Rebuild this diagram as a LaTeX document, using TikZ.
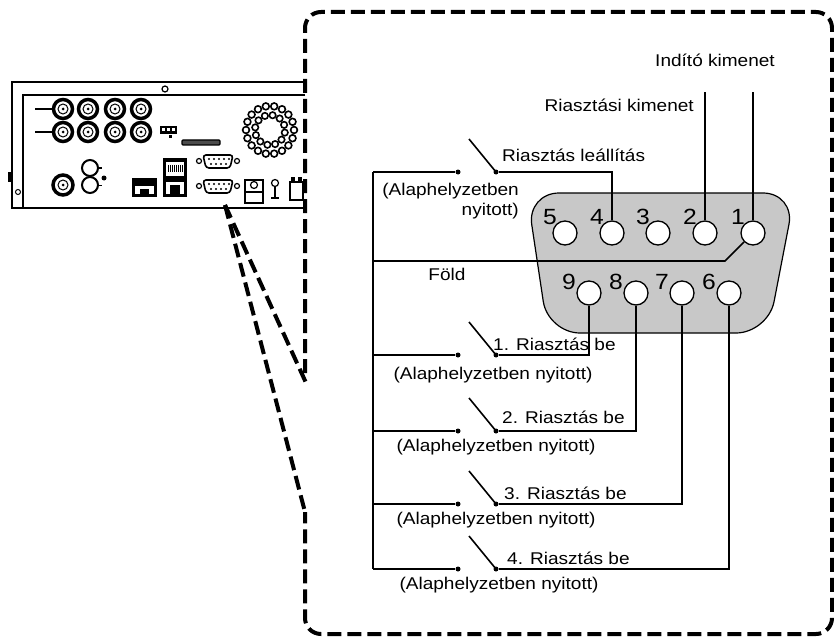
\documentclass[tikz,border=0pt]{standalone}
\usepackage{fontspec}
\setmainfont{Liberation Sans}[FakeStretch=1.12]
\usetikzlibrary{calc}
\definecolor{shellgray}{RGB}{200,200,200}
\newcommand{\labfont}{\fontsize{17}{19.5}\selectfont}
\newcommand{\pinfont}{\fontsize{22}{24}\selectfont}

\begin{document}
\begin{tikzpicture}[x=1pt,y=-1pt,
        pin/.style={circle,draw,fill=white,line width=1.3pt,minimum size=24pt,inner sep=0pt},
        contact/.style={circle,fill,inner sep=0pt,minimum size=5pt},
        lbl/.style={font=\labfont,inner sep=0pt},
        pinno/.style={font=\pinfont,inner sep=0pt},
        wire/.style={line width=1.6pt},
        zoomframe/.style={line width=4pt,dash pattern=on 14pt off 6pt}]
        \useasboundingbox (0,0) rectangle (834,639);

        % rear panel of the recorder
        \draw[line width=1.6pt] (305,82) -- (12,82) -- (12,208) -- (305,208);
        \draw[line width=1.3pt] (305,95) -- (23,95) -- (23,208);
        \fill (8,172) rectangle (12,182);
        \draw[line width=1pt] (18,192) circle (2.5);
        \draw[line width=1.2pt] (165,89) circle (3);
        % video in / out
        \foreach \y in {109,132} {
            \draw[line width=2pt] (35,\y) -- (53,\y);
            \foreach \x in {63,88,115,141} {
                \draw[line width=3.5pt] (\x,\y) circle (9.5);
                \draw[line width=1pt] (\x,\y) circle (5);
                \fill (\x,\y) circle (1.5);
            }
        }
        % dip switch and slot
        \fill (160,126) rectangle (177,134);
        \foreach \x in {162,167,172} \fill[white] (\x,128) rectangle (\x+3,131);
        \fill (169,135) rectangle (172,138);
        \draw[line width=1.3pt,fill=black!70,rounded corners=1pt] (182,140) rectangle (220,145);
        % fan
        \foreach \a in {0,20,...,340} \draw[line width=1.6pt] (270,130) ++(\a:24) circle (3.4);
        \foreach \a in {10,40,...,340} \draw[line width=1.6pt] (270,130) ++(\a:15) circle (3.2);
        % audio and monitor
        \draw[line width=3.5pt] (63,185) circle (10);
        \draw[line width=1pt] (63,185) circle (5);
        \fill (63,185) circle (1.5);
        \foreach \y in {168,185} {
            \draw[line width=2pt] (90,\y) circle (8);
            \draw[line width=1pt] (98,\y) -- (102,\y);
        }
        \fill (104,178) circle (2.5);
        % network and usb
        \fill (132,178) rectangle (157,197);
        \fill[white] (135,186) rectangle (154,194);
        \fill (140,189) rectangle (149,194);
        \fill (163,158) rectangle (187,197);
        \fill[white] (166,162) rectangle (184,176);
        \foreach \x in {168,170,...,182} \draw[line width=0.5pt] (\x,165) -- (\x,172);
        \fill[white] (166,182) rectangle (184,194);
        \fill (170,185) rectangle (180,194);
        % serial ports
        \foreach \y in {155,180} {
            \draw[line width=1.6pt,rounded corners=3pt] (203,\y) -- (233,\y) -- (230,\y+13) -- (206,\y+13) -- cycle;
            \draw[line width=1.2pt] (199,\y+6) circle (2.5);
            \draw[line width=1.2pt] (237,\y+6) circle (2.5);
            \foreach \x in {209,214,...,229} \fill (\x,\y+4) circle (1.2);
            \foreach \x in {211,216,...,226} \fill (\x,\y+9) circle (1.2);
        }
        % small items on the right
        \draw[line width=1.3pt] (245,180) rectangle (263,203);
        \draw[line width=1.3pt] (245,192) -- (263,192);
        \draw[line width=1.2pt] (254,185) circle (3.5);
        \draw[line width=1.2pt] (275,183) circle (3.5);
        \draw[line width=1.4pt] (275,187) -- (275,198);
        \draw[line width=2pt] (271,198) -- (279,198);
        \draw[line width=1.3pt] (290,182) rectangle (303,200);
        \fill (291,177) rectangle (295,182);
        \fill (298,177) rectangle (302,182);

        % zoomed frame
        \coordinate (port) at (225,205);
        \coordinate (fa) at (307,385);
        \coordinate (fb) at (305,512);
        \draw[zoomframe,rounded corners=16pt] (305,373) -- (305,12) -- (832,12) -- (832,634) -- (305,634) -- (fb);
        \draw[zoomframe] (port) -- (fa);
        \draw[zoomframe] (port) -- (fb);

        % DB9 shell
        \draw[rounded corners=32pt,fill=shellgray,line width=1.2pt]
            (660,193) -- (795,193) -- (768,333) -- (548,333) -- (527,193) -- cycle;

        % pins
        \foreach \n/\x in {5/565,4/612,3/658,2/705,1/753} {
            \node[pin] (p\n) at (\x,233) {};
            \node[pinno] (n\n) at ($(p\n)+(-15,-16)$) {\n};
        }
        \foreach \n/\x in {9/589,8/636,7/682,6/729} {
            \node[pin] (p\n) at (\x,293) {};
            \node[pinno] (n\n) at ($(p\n)+(-20,-11)$) {\n};
        }

        % outputs
        \coordinate (t1) at (753,92);
        \coordinate (t2) at (705,92);
        \draw[wire] (p1) -- (t1);
        \draw[wire] (p2) -- (t2);
        \node[lbl] (indito) at (715,60) {Indító kimenet};
        \node[lbl,anchor=east] (riaszt) at (694,105) {Riasztási kimenet};

        % switches
        \foreach \i/\y in {0/172,1/355,2/431,3/504,4/569} {
            \coordinate (bus\i) at (373,\y);
            \node[contact] (sa\i) at (458,\y) {};
            \node[contact] (sb\i) at (496,\y) {};
            \draw[wire] (bus\i) -- (sa\i);
            \draw[wire] (sb\i.center) -- ++(-27,-33) coordinate (bl\i);
        }
        \draw[wire] (bus0) -- (bus4);
        \draw[wire] (sb0) -| (p4);
        \draw[wire] (sb1) -| (p9);
        \draw[wire] (sb2) -| (p8);
        \draw[wire] (sb3) -| (p7);
        \draw[wire] (sb4) -| (p6);

        % ground
        \coordinate (gl) at (373,261);
        \coordinate (gk) at (725,261);
        \draw[wire] (gl) -- (gk) -- (p1.225);
        \node[lbl] (fold) at (447,274) {Föld};

        % labels
        \node[lbl,anchor=west] (leall) at (502,155) {Riasztás leállítás};
        \node[lbl,align=right,anchor=east] (nyit0) at (519,201) {(Alaphelyzetben\\nyitott)};
        \node[lbl,anchor=west] (be1) at (493,344) {1. Riasztás be};
        \node[lbl,anchor=west] (be2) at (502,417) {2. Riasztás be};
        \node[lbl,anchor=west] (be3) at (504,493) {3. Riasztás be};
        \node[lbl,anchor=west] (be4) at (507,558) {4. Riasztás be};
        \node[lbl] (nyit1) at (493,375) {(Alaphelyzetben nyitott)};
        \node[lbl] (nyit2) at (496,447) {(Alaphelyzetben nyitott)};
        \node[lbl] (nyit3) at (496,520) {(Alaphelyzetben nyitott)};
        \node[lbl] (nyit4) at (499,585) {(Alaphelyzetben nyitott)};
\end{tikzpicture}
\end{document}
